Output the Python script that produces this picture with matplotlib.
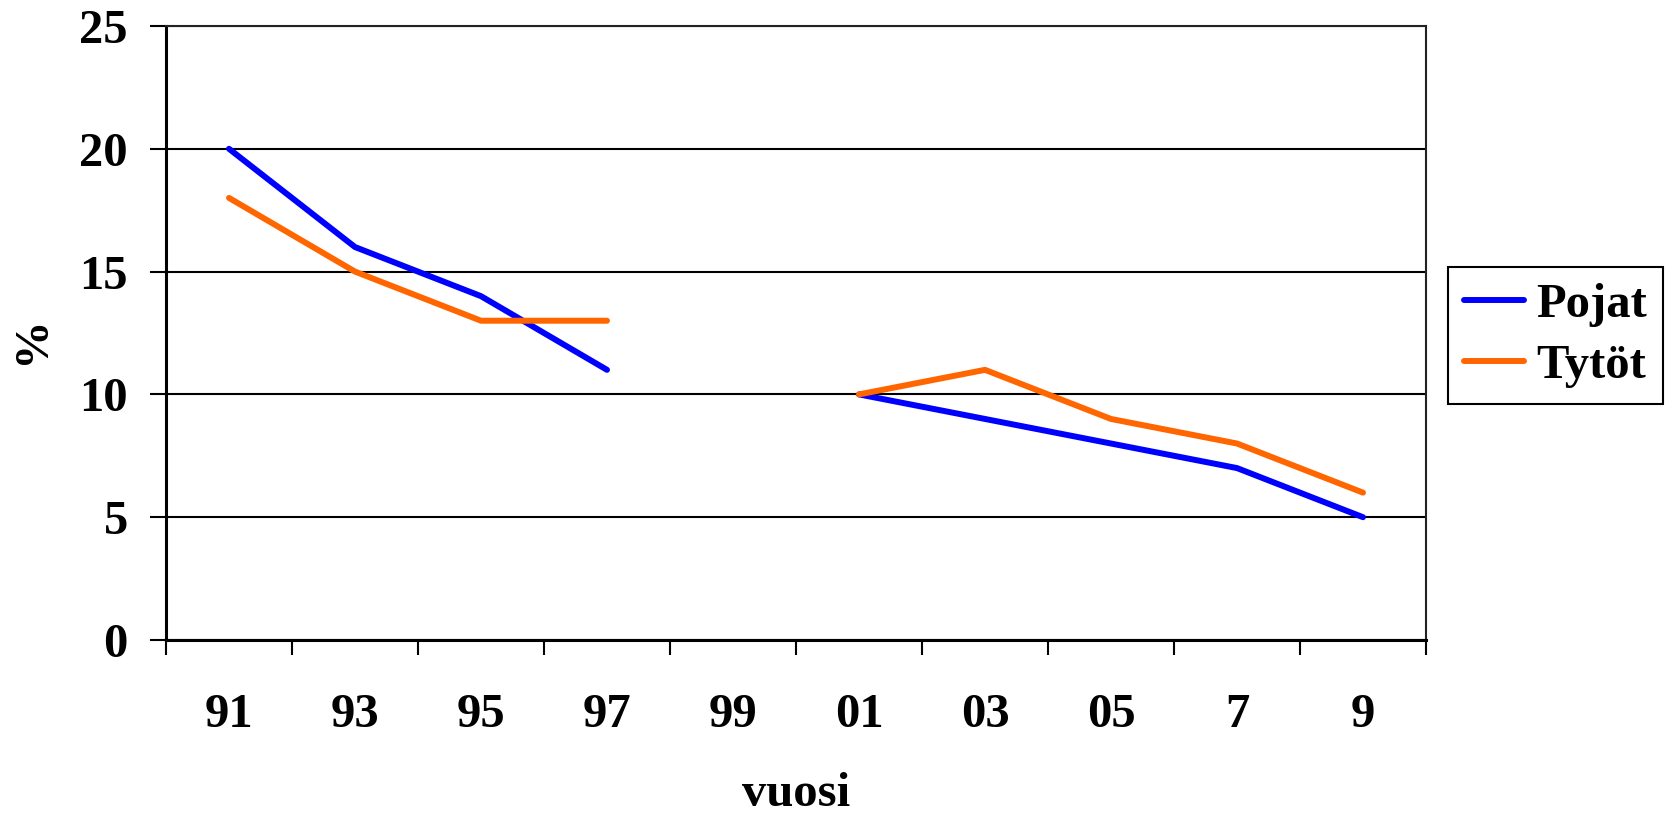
import numpy as np
import matplotlib
matplotlib.use("Agg")
import matplotlib.pyplot as plt

# data (99 has no value)
years = ["91", "93", "95", "97", "99", "01", "03", "05", "7", "9"]
pojat = [20, 16, 14, 11, np.nan, 10, 9, 8, 7, 5]
tytot = [18, 15, 13, 13, np.nan, 10, 11, 9, 8, 6]

plt.rcParams['font.family'] = ['Liberation Serif', 'DejaVu Serif']
plt.rcParams['font.weight'] = 'bold'
fs = 35

fig = plt.figure(figsize=(16.67, 8.16), dpi=100)
ax = fig.add_axes([166 / 1667, 1 - 640 / 816, 1260 / 1667, 614 / 816])

x = np.arange(len(years)) + 0.5
ax.plot(x, pojat, color='#0000FF', lw=4.3, label='Pojat', solid_capstyle='round')
ax.plot(x, tytot, color='#FF6600', lw=4.3, label='Tytöt', solid_capstyle='round')

ax.set_xlim(0, len(years))
ax.set_ylim(0, 25)
ax.set_yticks(range(0, 26, 5))
ax.set_yticklabels([str(v) for v in range(0, 26, 5)], fontsize=fs, fontweight='bold')
ax.yaxis.grid(True, color='black', lw=1.5)
ax.set_axisbelow(True)

ax.set_xticks(range(len(years) + 1))
ax.set_xticklabels([])
ax.set_xticks(x, minor=True)
ax.set_xticklabels(years, minor=True, fontsize=fs, fontweight='bold')
ax.tick_params(axis='x', which='major', direction='out', length=11, width=1.5)
ax.tick_params(axis='x', which='minor', length=0, pad=38)
ax.tick_params(axis='y', direction='out', length=11.5, width=1.5, pad=16)

for side in ['left', 'bottom']:
    ax.spines[side].set_linewidth(2.2)
for side in ['right', 'top']:
    ax.spines[side].set_linewidth(1.5)
    ax.spines[side].set_color('#222222')

fig.text(796 / 1667, 1 - 794 / 816, 'vuosi', fontsize=fs, fontweight='bold',
         ha='center', va='center')
fig.text(32 / 1667, 1 - 340 / 816, '%', fontsize=fs, fontweight='bold',
         ha='center', va='center', rotation=90)

leg = fig.legend(loc='upper left', bbox_to_anchor=(1448 / 1667, 1 - 267 / 816),
                 borderaxespad=0, fancybox=False, framealpha=1,
                 edgecolor='black', prop={'size': fs, 'weight': 'bold'},
                 handlelength=1.25, handletextpad=0.25, borderpad=0.32,
                 labelspacing=0.36)
leg.get_frame().set_linewidth(1.5)

fig.savefig('out.png', dpi=100)
